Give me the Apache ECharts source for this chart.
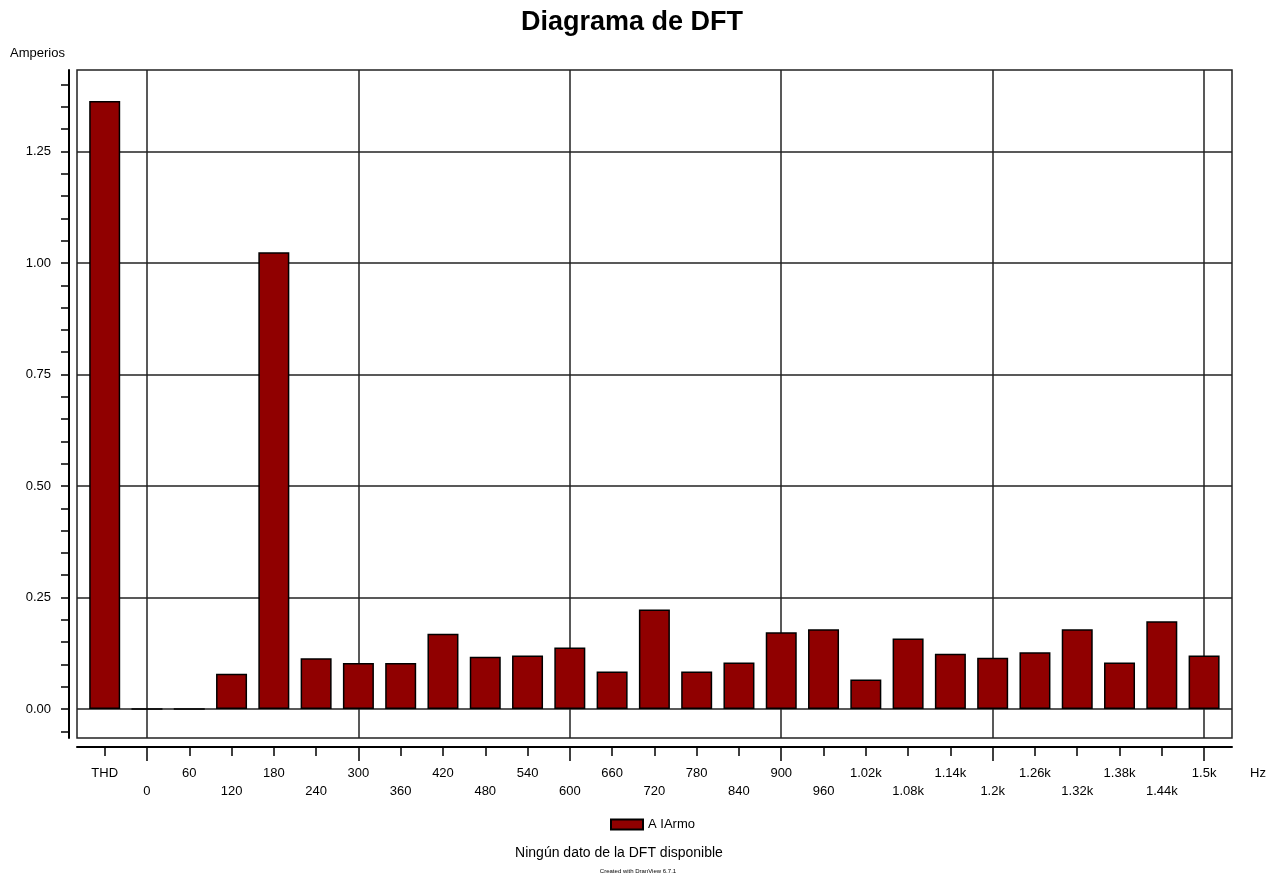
<!DOCTYPE html>
<html>
<head>
<meta charset="utf-8">
<title>Diagrama de DFT</title>
<script src="https://cdn.jsdelivr.net/npm/echarts@6/dist/echarts.min.js"></script>
<style>
  html, body { margin: 0; padding: 0; background: #ffffff; }
  #chart { width: 1283px; height: 879px; }
</style>
</head>
<body>
<div id="chart"></div>
<script>
// Harmonic bins (THD first, then 0 Hz to 1.5 kHz in 60 Hz steps)
const harmonicLabels = ['THD', '0', '60', '120', '180', '240', '300', '360', '420', '480',
  '540', '600', '660', '720', '780', '840', '900', '960', '1.02k', '1.08k',
  '1.14k', '1.2k', '1.26k', '1.32k', '1.38k', '1.44k', '1.5k'];

// Frequency of each bin on the axis (THD sits one slot left of 0 Hz)
const binHz = [-60, 0, 60, 120, 180, 240, 300, 360, 420, 480,
  540, 600, 660, 720, 780, 840, 900, 960, 1020, 1080,
  1140, 1200, 1260, 1320, 1380, 1440, 1500];

// Current amplitude per bin, amperes
const amperes = [1.363, 0, 0, 0.079, 1.024, 0.114, 0.103, 0.103, 0.169, 0.117,
  0.120, 0.138, 0.084, 0.223, 0.084, 0.104, 0.172, 0.179, 0.066, 0.158,
  0.124, 0.115, 0.127, 0.179, 0.104, 0.197, 0.120];

// Axis ticks
const yMinorTicks = [-0.05, 0, 0.05, 0.10, 0.15, 0.20, 0.25, 0.30, 0.35, 0.40, 0.45, 0.50,
  0.55, 0.60, 0.65, 0.70, 0.75, 0.80, 0.85, 0.90, 0.95, 1.00, 1.05, 1.10, 1.15,
  1.20, 1.25, 1.30, 1.35, 1.40];
const yMajorTicks = [0, 0.25, 0.50, 0.75, 1.00, 1.25];
const xMajorTicks = [0, 300, 600, 900, 1200, 1500];

const seriesName = 'A IArmo';
const FONT = '"Liberation Sans", Arial, sans-serif';

const yMin = -0.065, yMax = 1.4327;
const xMin = -99.3, xMax = 1539.6;

const chart = echarts.init(document.getElementById('chart'), null, { renderer: 'canvas' });

const barData = binHz.map((hz, i) => [hz, amperes[i]]);

chart.setOption({
  animation: false,
  backgroundColor: '#ffffff',
  textStyle: { fontFamily: FONT },
  grid: {
    left: 77, right: 51, top: 70, bottom: 141,
    show: true, borderColor: '#222', borderWidth: 1.5, backgroundColor: '#ffffff'
  },
  legend: {
    data: [seriesName],
    left: 605, top: 813,
    icon: 'rect', itemWidth: 32, itemHeight: 10, itemGap: 10,
    textStyle: { fontSize: 13, color: '#000', fontFamily: FONT }
  },
  xAxis: [
    {
      type: 'value', min: xMin, max: xMax, position: 'bottom', offset: 9,
      axisLine: { show: true, onZero: false, lineStyle: { color: '#000', width: 2 } },
      axisTick: { show: true, customValues: binHz, length: 9, lineStyle: { color: '#000', width: 1.5 } },
      axisLabel: {
        show: true, customValues: binHz, margin: 17, lineHeight: 18,
        fontSize: 13, color: '#000', fontFamily: FONT,
        formatter: function (v) {
          const i = binHz.indexOf(Math.round(v));
          if (i < 0) return '';
          return (i % 2 === 1 ? '\n' : '') + harmonicLabels[i];
        }
      },
      splitLine: { show: false }
    },
    {
      // major ticks + vertical grid lines every 300 Hz
      type: 'value', min: xMin, max: xMax, position: 'bottom', offset: 9,
      axisLine: { show: false, onZero: false },
      axisTick: { show: true, customValues: xMajorTicks, length: 14, lineStyle: { color: '#000', width: 1.5 } },
      axisLabel: { show: false, customValues: xMajorTicks },
      splitLine: { show: true, lineStyle: { color: '#222', width: 1.5 } }
    }
  ],
  yAxis: [
    {
      type: 'value', min: yMin, max: yMax, position: 'left', offset: 8,
      axisLine: { show: true, onZero: false, lineStyle: { color: '#000', width: 2 } },
      axisTick: { show: true, customValues: yMinorTicks, length: 8, lineStyle: { color: '#000', width: 1.5 } },
      axisLabel: {
        show: true, customValues: yMajorTicks, margin: 18,
        fontSize: 13, color: '#000', fontFamily: FONT,
        formatter: v => v.toFixed(2)
      },
      splitLine: { show: false }
    },
    {
      // horizontal grid lines every 0.25 A
      type: 'value', min: yMin, max: yMax, position: 'left',
      axisLine: { show: false, onZero: false },
      axisTick: { show: false, customValues: yMajorTicks },
      axisLabel: { show: false, customValues: yMajorTicks },
      splitLine: { show: true, lineStyle: { color: '#222', width: 1.5 } }
    }
  ],
  series: [
    {
      name: seriesName,
      type: 'bar',
      xAxisIndex: 0, yAxisIndex: 0,
      barWidth: 31,
      data: barData,
      z: 3,
      itemStyle: { color: '#900000', borderColor: '#000', borderWidth: 1.5 }
    }
  ],
  graphic: [
    {
      type: 'text', x: 632, y: 23,
      style: { text: 'Diagrama de DFT', font: 'bold 27px ' + FONT, fill: '#000', textAlign: 'center', textVerticalAlign: 'middle' }
    },
    {
      type: 'text', x: 10, y: 53,
      style: { text: 'Amperios', font: '13px ' + FONT, fill: '#000', textAlign: 'left', textVerticalAlign: 'middle' }
    },
    {
      type: 'text', x: 1258, y: 773,
      style: { text: 'Hz', font: '13px ' + FONT, fill: '#000', textAlign: 'center', textVerticalAlign: 'middle' }
    },
    {
      type: 'text', x: 619, y: 853,
      style: { text: 'Ningún dato de la DFT disponible', font: '14px ' + FONT, fill: '#000', textAlign: 'center', textVerticalAlign: 'middle' }
    },
    {
      type: 'text', x: 638, y: 871,
      style: { text: 'Created with DranView 6.7.1', font: '6px ' + FONT, fill: '#000', textAlign: 'center', textVerticalAlign: 'middle' }
    }
  ]
});
</script>
</body>
</html>
